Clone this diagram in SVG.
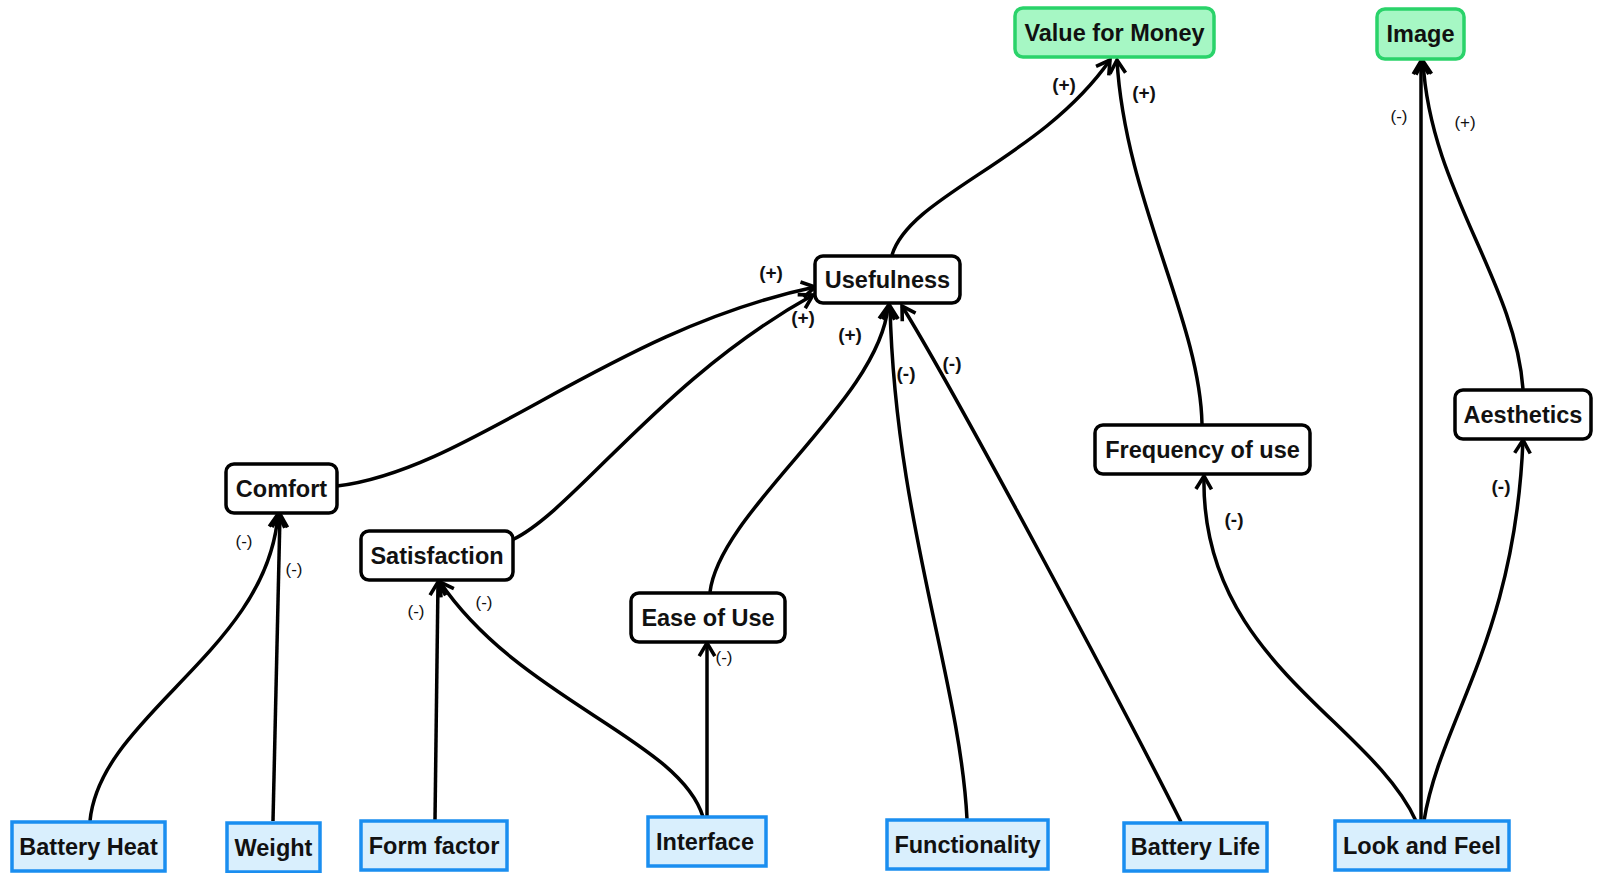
<svg xmlns="http://www.w3.org/2000/svg" width="1597" height="873" viewBox="0 0 1597 873">
<defs>
<marker id="arr" markerUnits="userSpaceOnUse" markerWidth="24" markerHeight="24" viewBox="-14 -10 18 20" refX="0" refY="0" orient="auto">
<path d="M-11,-6.5 L0,0 L-11,6.5" fill="none" stroke="#000" stroke-width="3" stroke-linejoin="miter"/>
</marker>
<style>
.n rect{fill:#fff;stroke:#000;stroke-width:3.5}
.g rect{fill:#a6f7c4;stroke:#2ad36a;stroke-width:3.5}
.b rect{fill:#d9effd;stroke:#1a8ef0;stroke-width:3.5}
.t{font-family:"Liberation Sans",Arial,sans-serif;font-weight:bold;font-size:23.5px;fill:#111;text-anchor:middle}
#edges path{fill:none;stroke:#000;stroke-width:3.5;marker-end:url(#arr)}
.lb{font-family:"Liberation Sans",Arial,sans-serif;font-weight:bold;font-size:19px;fill:#111;text-anchor:middle}
.ls{font-family:"Liberation Sans",Arial,sans-serif;font-size:17px;fill:#111;text-anchor:middle}
</style>
</defs>
<rect width="1597" height="873" fill="#fff"/>
<g id="edges">
<path d="M892,255 C910,195 1040,160 1110,60"/>
<path d="M1202,424 C1200,320 1125,200 1117,60"/>
<path d="M337,486 C470,470 610,330 815,287"/>
<path d="M512,540 C575,510 660,380 813,295"/>
<path d="M710,592 C720,510 880,400 888,306"/>
<path d="M967,819 C960,680 895,520 890,306"/>
<path d="M1181,822 C1130,720 960,400 902,306"/>
<path d="M90,821 C100,715 268,650 278,514"/>
<path d="M273,821 L280,514"/>
<path d="M435,820 L438,582"/>
<path d="M703,817 C680,740 520,700 440,582"/>
<path d="M707,817 L707,643"/>
<path d="M1416,821 C1370,720 1200,660 1204,476"/>
<path d="M1421,821 L1421,61"/>
<path d="M1424,821 C1440,720 1515,640 1523,440"/>
<path d="M1523,389 C1515,280 1430,190 1423,61"/>
</g>
<g id="labels">
<text class="lb" x="1064" y="91">(+)</text>
<text class="lb" x="1144" y="99">(+)</text>
<text class="ls" x="1399" y="122">(-)</text>
<text class="ls" x="1465" y="128">(+)</text>
<text class="lb" x="771" y="279">(+)</text>
<text class="lb" x="803" y="324">(+)</text>
<text class="lb" x="850" y="341">(+)</text>
<text class="lb" x="906" y="380">(-)</text>
<text class="lb" x="952" y="370">(-)</text>
<text class="ls" x="244" y="547">(-)</text>
<text class="ls" x="294" y="575">(-)</text>
<text class="ls" x="416" y="617">(-)</text>
<text class="ls" x="484" y="608">(-)</text>
<text class="ls" x="724" y="663">(-)</text>
<text class="lb" x="1234" y="526">(-)</text>
<text class="lb" x="1501" y="493">(-)</text>
</g>
<g id="n-value" class="g"><rect x="1015" y="8" width="199" height="49" rx="8"/><text class="t" x="1114.5" y="40.5">Value for Money</text></g>
<g id="n-image" class="g"><rect x="1377" y="9" width="87" height="50" rx="8"/><text class="t" x="1420.5" y="42">Image</text></g>
<g id="n-usefulness" class="n"><rect x="815" y="256" width="145" height="47" rx="8"/><text class="t" x="887.5" y="287.5">Usefulness</text></g>
<g id="n-comfort" class="n"><rect x="226" y="464" width="111" height="49" rx="8"/><text class="t" x="281.5" y="496.5">Comfort</text></g>
<g id="n-satisfaction" class="n"><rect x="361" y="531" width="152" height="49" rx="8"/><text class="t" x="437" y="563.5">Satisfaction</text></g>
<g id="n-ease" class="n"><rect x="631" y="593" width="154" height="49" rx="8"/><text class="t" x="708" y="625.5">Ease of Use</text></g>
<g id="n-frequency" class="n"><rect x="1095" y="425" width="215" height="49" rx="8"/><text class="t" x="1202.5" y="457.5">Frequency of use</text></g>
<g id="n-aesthetics" class="n"><rect x="1455" y="390" width="136" height="49" rx="8"/><text class="t" x="1523" y="422.5">Aesthetics</text></g>
<g id="n-batteryheat" class="b"><rect x="12" y="822" width="153" height="49"/><text class="t" x="88.5" y="854.5">Battery Heat</text></g>
<g id="n-weight" class="b"><rect x="227" y="823" width="93" height="49"/><text class="t" x="273.5" y="855.5">Weight</text></g>
<g id="n-formfactor" class="b"><rect x="361" y="821" width="146" height="49"/><text class="t" x="434" y="853.5">Form factor</text></g>
<g id="n-interface" class="b"><rect x="648" y="817" width="118" height="49"/><text class="t" x="705" y="849.5">Interface</text></g>
<g id="n-functionality" class="b"><rect x="887" y="820" width="161" height="49"/><text class="t" x="967.5" y="852.5">Functionality</text></g>
<g id="n-batterylife" class="b"><rect x="1124" y="823" width="143" height="48"/><text class="t" x="1195.5" y="855">Battery Life</text></g>
<g id="n-lookfeel" class="b"><rect x="1335" y="821" width="174" height="49"/><text class="t" x="1422" y="853.5">Look and Feel</text></g>
</svg>
